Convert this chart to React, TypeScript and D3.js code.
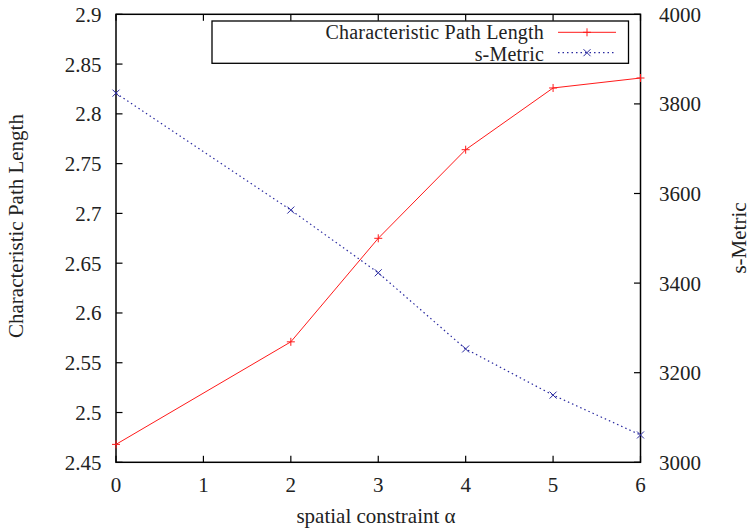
import React from "react";
import * as d3 from "d3";

const alphaValues = [0, 2, 3, 4, 5, 6];
const pathLength = [2.468, 2.571, 2.675, 2.764, 2.826, 2.836];
const sMetric = [3824, 3563, 3423, 3253, 3150, 3061];
const xTicks = [0, 1, 2, 3, 4, 5, 6];
const yLeftTicks = [2.45, 2.5, 2.55, 2.6, 2.65, 2.7, 2.75, 2.8, 2.85, 2.9];
const yRightTicks = [3000, 3200, 3400, 3600, 3800, 4000];
const seriesNames = ["Characteristic Path Length", "s-Metric"];

const W = 751, H = 530;
const L = 116, R = 640.5, T = 14.3, B = 462.3;
const FONT = "Liberation Serif, Times New Roman, serif";
const RED = "#ff1a1a";
const BLUE = "#2a2aa0";
const FS = 21;

export default function App() {
  const x = d3.scaleLinear().domain([0, 6]).range([L, R]);
  const yL = d3.scaleLinear().domain([2.45, 2.9]).range([B, T]);
  const yR = d3.scaleLinear().domain([3000, 4000]).range([B, T]);
  const fmt = (v: number) => String(+v.toFixed(2));

  const redLine = d3.line<number>().x((_, i) => x(alphaValues[i])).y((d) => yL(d))(pathLength) || "";
  const blueLine = d3.line<number>().x((_, i) => x(alphaValues[i])).y((d) => yR(d))(sMetric) || "";

  const plus = (cx: number, cy: number, s = 4) => `M${cx - s},${cy}H${cx + s}M${cx},${cy - s}V${cy + s}`;
  const cross = (cx: number, cy: number, s = 3.5) =>
    `M${cx - s},${cy - s}L${cx + s},${cy + s}M${cx - s},${cy + s}L${cx + s},${cy - s}`;

  const tl = 6.5;
  const txt = "#222";
  const ts: React.CSSProperties = { fontFamily: FONT, fontSize: FS };
  const lts: React.CSSProperties = { fontFamily: FONT, fontSize: 20, letterSpacing: 0.2 };

  return (
    <svg width={W} height={H} style={{ position: "absolute", left: 0, top: 0, background: "#fff" }}>
      <rect width={W} height={H} fill="#fff" />
      {xTicks.map((t) => (
        <g key={"x" + t}>
          <line x1={x(t)} x2={x(t)} y1={B} y2={B - tl} stroke="#000" strokeWidth={1.2} />
          <line x1={x(t)} x2={x(t)} y1={T} y2={T + tl} stroke="#000" strokeWidth={1.2} />
          <text x={x(t)} y={491.5} textAnchor="middle" style={ts} fill={txt}>{t}</text>
        </g>
      ))}
      {yLeftTicks.map((t) => (
        <g key={"yl" + t}>
          <line x1={L} x2={L + tl} y1={yL(t)} y2={yL(t)} stroke="#000" strokeWidth={1.2} />
          <text x={101.5} y={yL(t) + 7.5} textAnchor="end" style={ts} fill={txt}>{fmt(t)}</text>
        </g>
      ))}
      {yRightTicks.map((t) => (
        <g key={"yr" + t}>
          <line x1={R} x2={R - tl} y1={yR(t)} y2={yR(t)} stroke="#000" strokeWidth={1.2} />
          <text x={659} y={yR(t) + 7.5} textAnchor="start" style={ts} fill={txt}>{t}</text>
        </g>
      ))}
      <rect x={L} y={T} width={R - L} height={B - T} fill="none" stroke="#000" strokeWidth={1.5} />

      <path d={redLine} fill="none" stroke={RED} strokeWidth={1} />
      {pathLength.map((v, i) => (
        <path key={"rp" + i} d={plus(x(alphaValues[i]), yL(v))} stroke={RED} strokeWidth={1} fill="none" />
      ))}
      <path d={blueLine} fill="none" stroke={BLUE} strokeWidth={1.2} strokeDasharray="1.5,3" />
      {sMetric.map((v, i) => (
        <path key={"bp" + i} d={cross(x(alphaValues[i]), yR(v))} stroke={BLUE} strokeWidth={1} fill="none" />
      ))}

      <rect x={212} y={21} width={416.5} height={42.3} fill="#fff" stroke="#000" strokeWidth={1.3} />
      <text x={544} y={39} textAnchor="end" style={lts} fill={txt}>{seriesNames[0]}</text>
      <line x1={558} x2={616} y1={32.3} y2={32.3} stroke={RED} strokeWidth={1} />
      <path d={plus(587, 32.3)} stroke={RED} strokeWidth={1} />
      <text x={544} y={61} textAnchor="end" style={lts} fill={txt}>{seriesNames[1]}</text>
      <line x1={558} x2={616} y1={52.7} y2={52.7} stroke={BLUE} strokeWidth={1.2} strokeDasharray="1.5,3" />
      <path d={cross(587, 52.7)} stroke={BLUE} strokeWidth={1} />

      <text x={376} y={522.5} textAnchor="middle" style={ts} fill={txt}>spatial constraint α</text>
      <text transform={`translate(23,226) rotate(-90)`} textAnchor="middle" style={ts} fill={txt}>
        Characteristic Path Length
      </text>
      <text transform={`translate(746,238) rotate(-90)`} textAnchor="middle" style={ts} fill={txt}>
        s-Metric
      </text>
    </svg>
  );
}
